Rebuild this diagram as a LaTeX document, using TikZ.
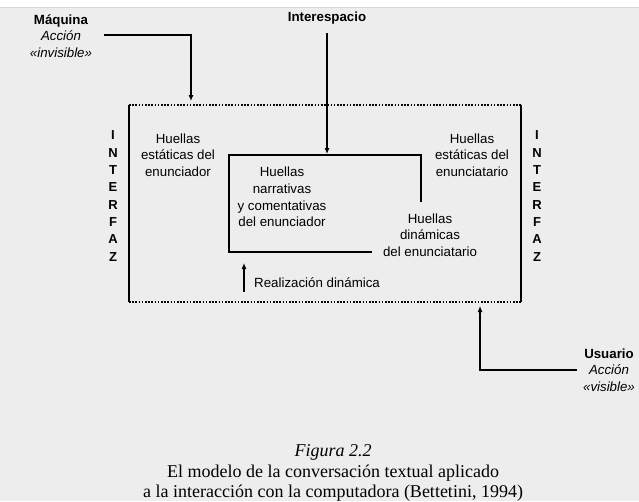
\documentclass[tikz,border=0pt]{standalone}
\usepackage{fontspec}
\setmainfont{Liberation Serif}
\setsansfont{Liberation Sans}
\usetikzlibrary{arrows.meta}
\definecolor{bg}{HTML}{EDEDED}
\definecolor{topline}{HTML}{D6D6D6}
\begin{document}
\begin{tikzpicture}[x=1pt,y=-1pt,
  lbl/.style={font=\sffamily\fontsize{13.3}{16.7}\selectfont, align=center, inner sep=0pt},
  vert/.style={font=\sffamily\bfseries\fontsize{13}{17.3}\selectfont, align=center, inner sep=0pt},
  conn/.style={line width=1.1pt, -{Latex[length=6pt,width=5pt]}},
  framev/.style={line width=1.8pt},
  frameh/.style={line width=1.6pt, dash pattern=on 1.6pt off 1.6pt},
  inner/.style={line width=1.8pt},
  capt/.style={font=\fontsize{18}{20.5}\selectfont, align=center, inner sep=0pt}]
\useasboundingbox (0,0) rectangle (639,501);
\fill[white] (0,0) rectangle (639,501);
\fill[bg] (0,7) rectangle (639,501);
\draw[topline, line width=1pt] (0,7) -- (639,7);

% outer frame
\coordinate (fTL) at (129,105);
\coordinate (fTR) at (521,105);
\coordinate (fBL) at (129,302);
\coordinate (fBR) at (521,302);
\draw[frameh] (fTL) -- (fTR);
\draw[frameh] (fBL) -- (fBR);
\draw[framev] (fTL) -- (fBL);
\draw[framev] (fTR) -- (fBR);

% inner box
\coordinate (iA) at (421,202);
\coordinate (iB) at (421,155);
\coordinate (iC) at (229,155);
\coordinate (iD) at (229,252);
\coordinate (iE) at (372,252);
\draw[inner] (iA) -- (iB) -- (iC) -- (iD) -- (iE);

% labels
\node[lbl] (maq) at (61,36) {\textbf{Máquina}\\\textit{Acción}\\\textit{«invisible»}};
\node[lbl] (usu) at (609,370) {\textbf{Usuario}\\\textit{Acción}\\\textit{«visible»}};
\node[lbl, font=\sffamily\bfseries\fontsize{13.3}{16.7}\selectfont] (inter) at (327,18) {Interespacio};
\node[vert] (ifL) at (113,196) {I\\N\\T\\E\\R\\F\\A\\Z};
\node[vert] (ifR) at (537,196) {I\\N\\T\\E\\R\\F\\A\\Z};
\node[lbl] (hee) at (178,155) {Huellas\\estáticas del\\enunciador};
\node[lbl] (hea) at (472,155) {Huellas\\estáticas del\\enunciatario};
\node[lbl] (hnc) at (282,197) {Huellas\\narrativas\\y comentativas\\del enunciador};
\node[lbl] (hda) at (430,235) {Huellas\\dinámicas\\del enunciatario};
\node[lbl, anchor=west] (real) at (254,283) {Realización dinámica};

% connectors
\coordinate (mA) at (104,35);
\coordinate (mT) at (191,101);
\draw[conn] (mA) -| (mT);
\coordinate (iT) at (327,154);
\draw[conn, shorten <=9pt] (inter) -- (iT);
\coordinate (rB) at (244,292);
\coordinate (rT) at (244,263);
\draw[conn] (rB) -- (rT);
\coordinate (uA) at (577,370);
\coordinate (uT) at (480,306);
\draw[conn] (uA) -| (uT);

% caption
\node[capt] (cap) at (333,473) {\textit{Figura 2.2}\\El modelo de la conversación textual aplicado\\a la interacción con la computadora (Bettetini, 1994)};
\end{tikzpicture}
\end{document}
